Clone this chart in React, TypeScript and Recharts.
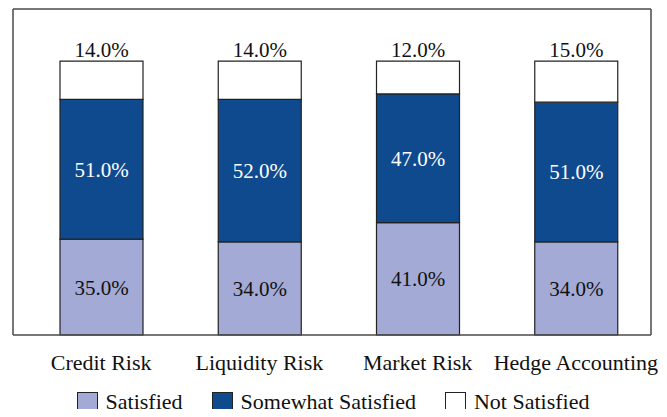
import { Bar, BarChart, LabelList, Legend, XAxis, YAxis } from "recharts";

const categories = ["Credit Risk", "Liquidity Risk", "Market Risk", "Hedge Accounting"];
const satisfied = [35, 34, 41, 34];
const somewhatSatisfied = [51, 52, 47, 51];
const notSatisfied = [14, 14, 12, 15];

const SERIES = [
  { key: "satisfied", name: "Satisfied", color: "#A3AAD6" },
  { key: "somewhat", name: "Somewhat Satisfied", color: "#0F4A8E" },
  { key: "not", name: "Not Satisfied", color: "#FFFFFF" },
];

const FONT = "Liberation Serif, serif";
const FRAME = "#4a4a4a";

const fmt = (v: unknown) => `${Number(v).toFixed(1)}%`;

function LegendRow() {
  return (
    <div
      style={{
        display: "flex",
        justifyContent: "center",
        alignItems: "center",
        height: 30,
        fontFamily: FONT,
        fontSize: 22,
        color: "#111",
        paddingLeft: 2,
      }}
    >
      {SERIES.map((s, i) => (
        <div
          key={s.key}
          style={{ display: "flex", alignItems: "center", marginLeft: i === 0 ? 0 : 29 }}
        >
          <span
            style={{
              width: 19,
              height: 18,
              background: s.color,
              border: "1px solid #222",
              marginRight: 8,
              display: "inline-block",
            }}
          />
          <span>{s.name}</span>
        </div>
      ))}
    </div>
  );
}

export default function App() {
  const data = categories.map((c, i) => ({
    category: c,
    satisfied: satisfied[i],
    somewhat: somewhatSatisfied[i],
    not: notSatisfied[i],
  }));

  return (
    <div style={{ margin: -8, width: 667, height: 417, background: "#fff", fontFamily: FONT }}>
      <BarChart
        width={667}
        height={417}
        data={data}
        margin={{ top: 8, right: 15, bottom: 0, left: 12 }}
        barSize={83}
        style={{ fontFamily: FONT }}
      >
        <XAxis
          dataKey="category"
          padding={{ left: 9, right: -4 }}
          height={52}
          tickLine={false}
          tickMargin={13}
          axisLine={{ stroke: FRAME, strokeWidth: 1.5 }}
          tick={{ fill: "#111", fontSize: 22, fontFamily: FONT }}
          interval={0}
        />
        <XAxis
          xAxisId="top"
          dataKey="category"
          orientation="top"
          height={1}
          tick={false}
          tickLine={false}
          axisLine={{ stroke: FRAME, strokeWidth: 1.5 }}
        />
        <YAxis
          domain={[0, 119]}
          width={1}
          tick={false}
          tickLine={false}
          axisLine={{ stroke: FRAME, strokeWidth: 1.5 }}
        />
        <YAxis
          yAxisId="right"
          orientation="right"
          domain={[0, 119]}
          width={1}
          tick={false}
          tickLine={false}
          axisLine={{ stroke: FRAME, strokeWidth: 1.5 }}
        />
        <Legend verticalAlign="bottom" height={30} content={() => <LegendRow />} />
        <Bar
          dataKey="satisfied"
          name="Satisfied"
          stackId="a"
          fill={SERIES[0].color}
          stroke="#222"
          strokeWidth={1.2}
          isAnimationActive={false}
        >
          <LabelList
            dataKey="satisfied"
            position="center"
            formatter={fmt}
            fill="#111"
            fontSize={21}
            fontFamily={FONT}
          />
        </Bar>
        <Bar
          dataKey="somewhat"
          name="Somewhat Satisfied"
          stackId="a"
          fill={SERIES[1].color}
          stroke="#222"
          strokeWidth={1.2}
          isAnimationActive={false}
        >
          <LabelList
            dataKey="somewhat"
            position="center"
            formatter={fmt}
            fill="#fff"
            fontSize={21}
            fontFamily={FONT}
          />
        </Bar>
        <Bar
          dataKey="not"
          name="Not Satisfied"
          stackId="a"
          fill={SERIES[2].color}
          stroke="#222"
          strokeWidth={1.2}
          isAnimationActive={false}
        >
          <LabelList
            dataKey="not"
            position="top"
            offset={4}
            formatter={fmt}
            fill="#111"
            fontSize={21}
            fontFamily={FONT}
          />
        </Bar>
      </BarChart>
    </div>
  );
}
